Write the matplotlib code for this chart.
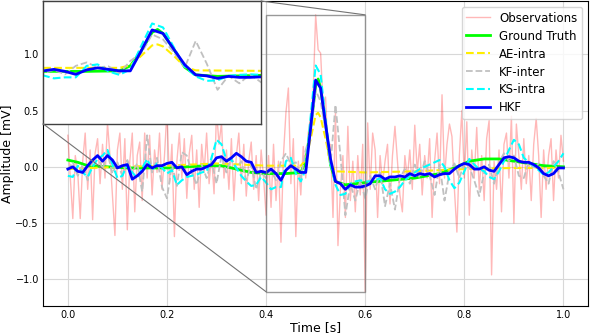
import numpy as np
import matplotlib
matplotlib.use("Agg")
import matplotlib.pyplot as plt
from matplotlib.patches import Rectangle, ConnectionPatch

# ---------------- data ----------------
t_obs = np.round(np.arange(201) * 0.005, 3)
observations = [
    0.28, -0.10, -0.46, 0.10, -0.05, -0.46, 0.05, 0.30, -0.20, 0.15,
    -0.47, 0.12, 0.25, -0.15, 0.20, -0.10, 0.39, 0.10, -0.25, -0.61,
    0.15, 0.30, -0.20, 0.25, -0.56, 0.05, 0.30, -0.40, 0.10, 0.22,
    -0.30, 0.30, -0.10, 0.28, -0.25, 0.15, -0.05, 0.30, -0.20, 0.10,
    0.50, -0.15, 0.20, -0.62, 0.05, 0.30, -0.10, 0.25, -0.28, 0.12,
    0.28, -0.20, 0.15, -0.36, 0.20, -0.05, 0.30, -0.15, 0.10, -0.24,
    0.50, 0.20, 0.39, -0.10, 0.15, -0.20, 0.25, -0.30, 0.10, 0.30,
    -0.15, 0.20, -0.26, 0.05, 0.22, -0.20, 0.10, -0.30, 0.15, -0.10,
    -0.43, 0.10, -0.36, 0.20, -0.30, 0.05, -0.67, 0.10, 0.48, 0.70,
    -0.15, 0.25, -0.62, 0.05, -0.25, 0.18, -0.10, 0.30, 0.45, 0.65,
    1.35, 1.04, 1.01, 0.55, 0.62, 0.10, 0.20, -0.45, 0.50, -0.70,
    -0.20, 0.10, -0.45, 0.36, -0.30, 0.05, -0.40, 0.10, -0.25, 0.20,
    -1.11, 0.39, -0.20, 0.30, 0.15, -0.45, 0.10, -0.15, 0.05, 0.20,
    -0.33, 0.10, 0.36, 0.05, -0.25, -0.40, 0.10, -0.10, 0.15, -0.20,
    0.37, -0.05, 0.20, -0.25, 0.10, -0.10, 0.25, -0.45, 0.05, 0.30,
    -0.15, 0.64, -0.10, 0.20, 0.38, 0.27, -0.20, -0.58, 0.10, 0.50,
    -0.10, 0.40, -0.43, 0.15, -0.10, 0.35, -0.20, 0.10, -0.30, 0.25,
    0.41, -0.96, 0.05, -0.20, 0.15, -0.40, 0.20, 0.30, -0.10, 0.45,
    -0.50, 0.38, 0.10, -0.20, 0.25, -0.15, 0.10, -0.30, 0.20, 0.43,
    0.10, -0.45, 0.15, -0.20, 0.10, 0.25, -0.30, 0.15, -0.10, 0.28,
    0.05,
]

t_gt = [0.0, 0.02, 0.04, 0.08, 0.12, 0.16, 0.20, 0.24, 0.28, 0.31, 0.34,
        0.37, 0.40, 0.44, 0.47, 0.48, 0.49, 0.50, 0.505, 0.51, 0.52, 0.53,
        0.54, 0.56, 0.60, 0.65, 0.70, 0.75, 0.78, 0.81, 0.84, 0.87, 0.90,
        0.93, 0.96, 1.0]
ground_truth = [0.06, 0.04, 0.01, 0.0, -0.01, -0.01, -0.01, 0.0, 0.01, 0.01,
                -0.02, -0.05, -0.06, -0.06, -0.05, 0.05, 0.35, 0.72, 0.78,
                0.70, 0.38, 0.02, -0.13, -0.16, -0.14, -0.12, -0.10, -0.06,
                -0.01, 0.05, 0.07, 0.07, 0.05, 0.03, 0.01, 0.0]

t_ae = [0.0, 0.1, 0.2, 0.25, 0.3, 0.35, 0.4, 0.45, 0.47, 0.48, 0.49, 0.50,
        0.505, 0.51, 0.52, 0.53, 0.54, 0.6, 0.7, 0.8, 0.9, 1.0]
ae_intra = [-0.02, 0.0, 0.01, 0.02, 0.03, 0.02, 0.01, 0.01, 0.01, 0.06, 0.25,
            0.46, 0.48, 0.44, 0.25, 0.03, -0.04, -0.05, -0.04, -0.02, -0.01,
            -0.01]

t_est = np.round(np.arange(101) * 0.01, 2)
kf_inter = [
    -0.03, 0.04, -0.08, 0.02, -0.12, 0.05, 0.10, -0.02, 0.12, -0.06,
    0.04, -0.08, 0.06, -0.05, 0.03, -0.22, 0.28, -0.05, 0.08, -0.18,
    -0.28, 0.02, -0.17, 0.13, 0.10, -0.05, -0.16, 0.02, -0.10, 0.05,
    -0.15, 0.10, -0.05, 0.08, -0.02, 0.05, -0.12, 0.02, -0.20, -0.05,
    -0.10, -0.03, -0.12, 0.05, 0.12, 0.02, 0.04, -0.10, 0.15, 0.30,
    0.68, 0.58, 0.32, 0.02, 0.55, 0.10, -0.43, -0.15, -0.30, -0.12,
    -0.28, -0.08, -0.20, -0.05, -0.35, -0.15, -0.38, -0.10, -0.02, -0.15,
    0.02, -0.10, 0.05, -0.08, -0.25, 0.02, -0.30, -0.05, 0.03, -0.10,
    0.04, 0.00, -0.12, -0.26, -0.05, 0.02, -0.15, 0.04, 0.12, 0.05,
    0.10, -0.08, -0.10, 0.05, -0.02, 0.03, -0.08, -0.15, 0.05, -0.05,
    -0.20,
]
ks_intra = [
    -0.08, -0.09, 0.01, -0.05, -0.09, 0.00, 0.07, 0.10, 0.15, 0.02,
    -0.10, -0.08, 0.02, -0.05, -0.10, -0.01, 0.07, -0.03, 0.03, -0.01,
    -0.06, -0.03, -0.16, -0.12, -0.09, -0.08, -0.07, -0.05, -0.04, 0.08,
    0.24, 0.20, 0.06, 0.06, -0.01, -0.08, -0.13, -0.17, -0.16, -0.09,
    -0.14, -0.20, -0.18, -0.18, 0.05, 0.08, -0.06, -0.13, -0.02, 0.45,
    0.90, 0.82, 0.42, 0.03, -0.16, -0.25, -0.24, -0.15, -0.13, -0.12,
    -0.13, -0.13, -0.12, -0.10, -0.20, -0.24, -0.22, -0.18, -0.12, -0.08,
    -0.05, -0.02, 0.00, 0.02, 0.04, 0.06, 0.00, -0.12, -0.19, -0.14,
    -0.04, 0.07, 0.02, -0.02, -0.04, -0.09, -0.11, -0.04, 0.05, 0.15,
    0.24, 0.20, 0.08, 0.04, 0.01, -0.03, -0.07, -0.05, 0.00, 0.05,
    0.12,
]
hkf = [
    -0.02, 0.00, -0.04, -0.05, 0.01, 0.06, 0.10, 0.05, 0.10, 0.06,
    -0.01, 0.01, 0.02, -0.11, -0.08, -0.04, 0.02, -0.01, 0.01, 0.01,
    0.03, 0.04, -0.01, 0.00, -0.07, -0.04, -0.02, -0.02, 0.00, 0.02,
    0.08, 0.09, 0.05, 0.08, 0.12, 0.09, 0.05, 0.04, -0.05, -0.04,
    -0.05, -0.02, -0.06, -0.12, -0.03, 0.01, -0.02, -0.05, -0.05, 0.35,
    0.77, 0.70, 0.38, 0.07, -0.13, -0.15, -0.20, -0.16, -0.18, -0.18,
    -0.17, -0.15, -0.08, -0.08, -0.11, -0.09, -0.09, -0.08, -0.09, -0.06,
    -0.08, -0.06, -0.07, -0.06, -0.09, -0.07, -0.06, -0.06, -0.02, 0.01,
    0.03, 0.02, -0.02, -0.02, 0.00, -0.03, -0.04, 0.02, 0.08, 0.09,
    0.08, 0.05, 0.04, 0.04, 0.02, -0.01, -0.06, -0.08, -0.06, -0.01,
    -0.01,
]
zoom_window = (0.4, 0.6)

# ---------------- figure ----------------
fig = plt.figure(figsize=(5.9, 3.34), dpi=100)
ax = fig.add_axes([0.073, 0.085, 0.924, 0.912])

ax.plot(t_obs, observations, color="red", alpha=0.28, lw=1.0, label="Observations")
ax.plot(t_gt, ground_truth, color="lime", lw=2.0, label="Ground Truth")
ax.plot(t_ae, ae_intra, color="#ffee00", lw=1.5, ls="--", label="AE-intra")
ax.plot(t_est, kf_inter, color="silver", lw=1.3, ls="--", label="KF-inter")
ax.plot(t_est, ks_intra, color="cyan", lw=1.5, ls="--", label="KS-intra")
ax.plot(t_est, hkf, color="blue", lw=2.0, label="HKF")

ax.set_xlabel("Time [s]", fontsize=9, labelpad=1)
ax.set_ylabel("Amplitude [mV]", fontsize=9, labelpad=1)
ax.tick_params(labelsize=7, pad=3, length=0)
ax.grid(True, color="#d8d8d8", lw=0.8)
ax.set_xticks([0.0, 0.2, 0.4, 0.6, 0.8, 1.0])
ax.set_yticks([-1.0, -0.5, 0.0, 0.5, 1.0])
ax.legend(loc="upper right", fontsize=8.5, borderaxespad=0.5,
          handlelength=2.0, labelspacing=0.42)

# zoom window bounds from the observation data
obs_arr = np.array(observations)
mask = (t_obs >= zoom_window[0]) & (t_obs <= zoom_window[1])
y_lo, y_hi = obs_arr[mask].min(), obs_arr[mask].max()

axins = ax.inset_axes([0.0, 0.597, 0.4, 0.403])
axins.plot(t_gt, ground_truth, color="lime", lw=2.0)
axins.plot(t_ae, ae_intra, color="#ffee00", lw=1.5, ls="--")
axins.plot(t_est, kf_inter, color="silver", lw=1.3, ls="--")
axins.plot(t_est, ks_intra, color="cyan", lw=1.5, ls="--")
axins.plot(t_est, hkf, color="blue", lw=2.0)
axins.set_xlim(*zoom_window)
axins.set_ylim(y_lo, y_hi)
axins.set_xticks([])
axins.set_yticks([])
axins.set_facecolor("white")
for s in axins.spines.values():
    s.set_color("#404040")
    s.set_linewidth(1.0)

rect = Rectangle((zoom_window[0], y_lo), zoom_window[1] - zoom_window[0],
                 y_hi - y_lo, fill=False, edgecolor="0.5", lw=1.0, alpha=0.8,
                 zorder=4)
ax.add_patch(rect)
c1 = ConnectionPatch(xyA=(zoom_window[1], y_hi), coordsA=ax.transData,
                     xyB=(1, 1), coordsB=axins.transAxes, color="0.45", lw=0.8)
c2 = ConnectionPatch(xyA=(zoom_window[0], y_lo), coordsA=ax.transData,
                     xyB=(0, 0), coordsB=axins.transAxes, color="0.45", lw=0.8)
fig.add_artist(c1)
fig.add_artist(c2)

fig.savefig("out.png", dpi=100)
